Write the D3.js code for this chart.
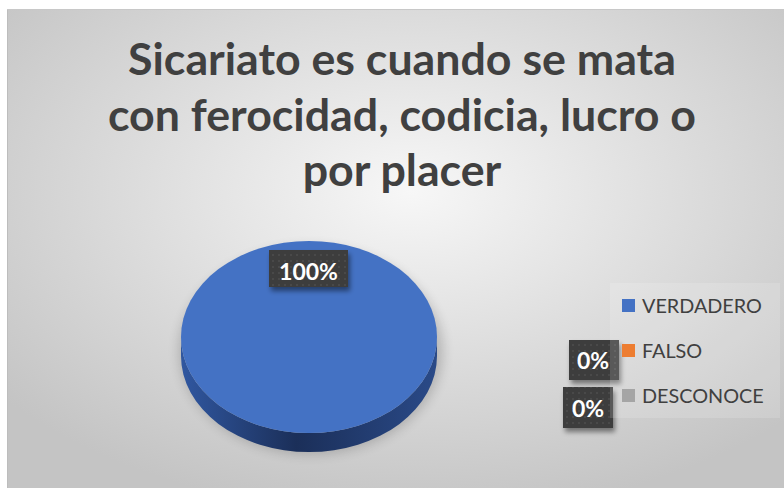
<!DOCTYPE html>
<html><head><meta charset="utf-8">
<script src="https://cdn.jsdelivr.net/npm/d3@7"></script>
<style>html,body{margin:0;padding:0;background:#fff;}svg{display:block;}</style>
</head><body>
<svg id="chart" width="784" height="489"></svg>
<script>
const titleLines = ["Sicariato es cuando se mata", "con ferocidad, codicia, lucro o", "por placer"];
const categories = ["VERDADERO", "FALSO", "DESCONOCE"];
const values = [100, 0, 0];
const labels = ["100%", "0%", "0%"];
const colors = ["#4472c4", "#ed7d31", "#a5a5a5"];

const svg = d3.select("#chart");
const defs = svg.append("defs");

const bg = defs.append("radialGradient").attr("id","bg").attr("cx","52%").attr("cy","38%").attr("r","68%");
bg.append("stop").attr("offset","0%").attr("stop-color","#f7f7f7");
bg.append("stop").attr("offset","100%").attr("stop-color","#c4c4c4");

const side = defs.append("linearGradient").attr("id","side").attr("x1","0%").attr("x2","100%");
side.append("stop").attr("offset","0%").attr("stop-color","#3057a0");
side.append("stop").attr("offset","45%").attr("stop-color","#1b2f59");
side.append("stop").attr("offset","100%").attr("stop-color","#2a4a88");

const blur = defs.append("filter").attr("id","blur").attr("x","-30%").attr("y","-30%").attr("width","160%").attr("height","160%");
blur.append("feGaussianBlur").attr("stdDeviation",6);

const ds = defs.append("filter").attr("id","ds").attr("x","-30%").attr("y","-30%").attr("width","170%").attr("height","180%");
ds.append("feDropShadow").attr("dx",2).attr("dy",4).attr("stdDeviation",2.5).attr("flood-color","#000").attr("flood-opacity",0.45);

const pat = defs.append("pattern").attr("id","dots").attr("width",6).attr("height",6).attr("patternUnits","userSpaceOnUse");
pat.append("rect").attr("width",6).attr("height",6).attr("fill","#3e3e3e");
pat.append("circle").attr("cx",3).attr("cy",3).attr("r",0.8).attr("fill","#555");

svg.append("rect").attr("x",7).attr("y",9).attr("width",777).attr("height",479).attr("fill","url(#bg)");
svg.append("line").attr("x1",7.5).attr("x2",7.5).attr("y1",9).attr("y2",488).attr("stroke","#bdbdbd");
svg.append("line").attr("x1",7).attr("x2",784).attr("y1",9.5).attr("y2",9.5).attr("stroke","#c8c8c8");

const titleG = svg.append("g").attr("font-family","Lato, 'Open Sans', sans-serif").attr("font-weight","bold").attr("fill","#404040").attr("text-anchor","middle");
const tFirst = titleG.append("text").attr("font-size",40).text(titleLines[0]);
const base = tFirst.node().getComputedTextLength();
const tSize = 40 * 548 / base;
tFirst.remove();
titleLines.forEach((t,i)=>{
  titleG.append("text").attr("x",402).attr("y",75 + i*55.5).attr("font-size",tSize).text(t);
});

const cx = 309, cy = 337, rx = 128, ry = 96, depth = 19;
const pie = d3.pie().sort(null).value(d=>d.v);
const data = categories.map((c,i)=>({c, v: values[i], color: colors[i], label: labels[i]}));
const arcs = pie(data);
const arc = d3.arc().innerRadius(0).outerRadius(rx);

svg.append("ellipse").attr("cx",cx+2).attr("cy",cy+depth/2+4).attr("rx",rx+4).attr("ry",ry+8)
  .attr("fill","#000").attr("opacity",0.18).attr("filter","url(#blur)");

const pieG = svg.append("g");
arcs.filter(a=>a.value>0).forEach(a=>{
  pieG.append("path")
    .attr("d", `M${cx-rx},${cy} L${cx-rx},${cy+depth} A${rx},${ry} 0 0 0 ${cx+rx},${cy+depth} L${cx+rx},${cy} A${rx},${ry} 0 0 1 ${cx-rx},${cy} Z`)
    .attr("fill","url(#side)");
});
pieG.append("g").attr("transform",`translate(${cx},${cy}) scale(1,${ry/rx})`)
  .selectAll("path").data(arcs).join("path")
  .attr("d",arc).attr("fill",d=>d.data.color);

const lblPos = [
  {x:269, y:250, w:79, h:37, tx:308.5, ty:280},
  {x:569, y:340, w:50, h:40, tx:593, ty:369},
  {x:563, y:387, w:50, h:41, tx:588, ty:417}
];
const lg = svg.append("g");
arcs.forEach((a,i)=>{
  const p = lblPos[i];
  lg.append("rect").attr("x",p.x).attr("y",p.y).attr("width",p.w).attr("height",p.h)
    .attr("fill","url(#dots)").attr("filter","url(#ds)");
  lg.append("text").attr("x",p.tx).attr("y",p.ty).attr("text-anchor","middle")
    .attr("font-family","Lato, 'Open Sans', sans-serif").attr("font-weight","bold")
    .attr("font-size",23).attr("fill","#fff").text(a.data.label);
});

svg.append("rect").attr("x",610).attr("y",283).attr("width",170).attr("height",135).attr("fill","#fff").attr("opacity",0.15);
const leg = svg.append("g").attr("font-family","Lato, 'Open Sans', sans-serif").attr("fill","#404040");
const legY = [313, 358, 403];
const probe = leg.append("text").attr("font-size",20).text(categories[0]);
const lSize = 20 * 120 / probe.node().getComputedTextLength();
probe.remove();
data.forEach((d,i)=>{
  leg.append("rect").attr("x",622).attr("y",legY[i]-14).attr("width",13).attr("height",13).attr("fill",d.color);
  leg.append("text").attr("x",642).attr("y",legY[i]).attr("font-size",lSize).text(d.c);
});
</script>
</body></html>
